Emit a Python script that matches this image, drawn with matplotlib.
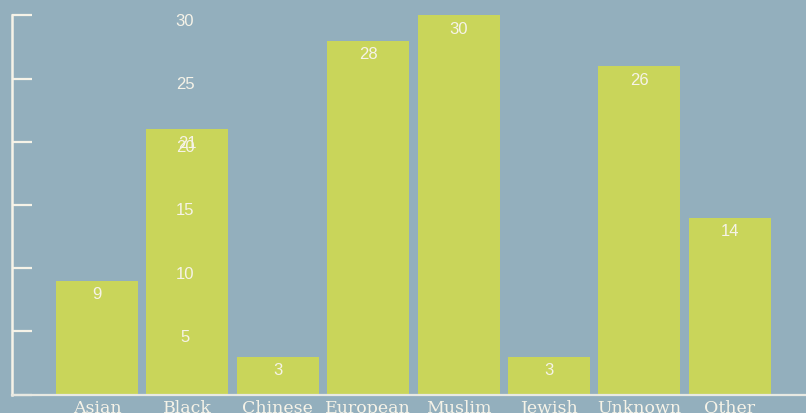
import matplotlib
matplotlib.use("Agg")
import matplotlib.pyplot as plt
import matplotlib.transforms as mtransforms
import numpy as np

categories = ["Asian", "Black", "Chinese", "European", "Muslim", "Jewish", "Unknown", "Other"]
counts = [9, 21, 3, 28, 30, 3, 26, 14]
y_ticks = [5, 10, 15, 20, 25, 30]

bg = "#93afbd"
bar_col = "#c9d55a"
txt = "#f6f3e8"

fig = plt.figure(figsize=(8.06, 4.14), dpi=100, facecolor=bg)
W, H = 806.0, 414.0
# axes box in pixels: left 12, right 806, bottom 395.5, top 16.3
ax = fig.add_axes([12 / W, (H - 395.5) / H, 794 / W, (395.5 - 16.3) / H])
ax.set_facecolor(bg)

x = np.arange(len(categories))
ax.bar(x, counts, width=0.907, color=bar_col, zorder=2)
ax.set_xlim(-0.94, -0.94 + 794 / 90.4)
ax.set_ylim(0, 30)

for s in ["top", "right"]:
    ax.spines[s].set_visible(False)
ax.spines["left"].set_color(txt)
ax.spines["left"].set_linewidth(1.8)
ax.spines["bottom"].set_color("#e8e9e2")
ax.spines["bottom"].set_linewidth(1.6)

ax.set_yticks([0] + y_ticks)
ax.tick_params(axis="y", direction="in", length=14.5, width=1.6, color=txt, labelleft=False)
ax.set_xticks(x)
ax.set_xticklabels(categories, family="DejaVu Serif", fontsize=12.5, color=txt)
ax.tick_params(axis="x", length=0, pad=3)

# y tick labels sit inside the plot area
lbl_tr = mtransforms.blended_transform_factory(ax.transAxes, ax.transData)
lbl_tr = lbl_tr + mtransforms.ScaledTranslation(0, -5 / 100, fig.dpi_scale_trans)
for t in y_ticks:
    ax.text((185 - 12) / 794, t, str(t), transform=lbl_tr, ha="center", va="center",
            fontsize=12, color=txt, family="Liberation Sans", zorder=3)

for xi, v in zip(x, counts):
    ax.annotate(str(v), (xi, v), xytext=(0, -9.5), textcoords="offset points",
                ha="center", va="center", fontsize=12, color=txt,
                family="Liberation Sans", zorder=4)

fig.savefig("out.png", dpi=100, facecolor=bg)
